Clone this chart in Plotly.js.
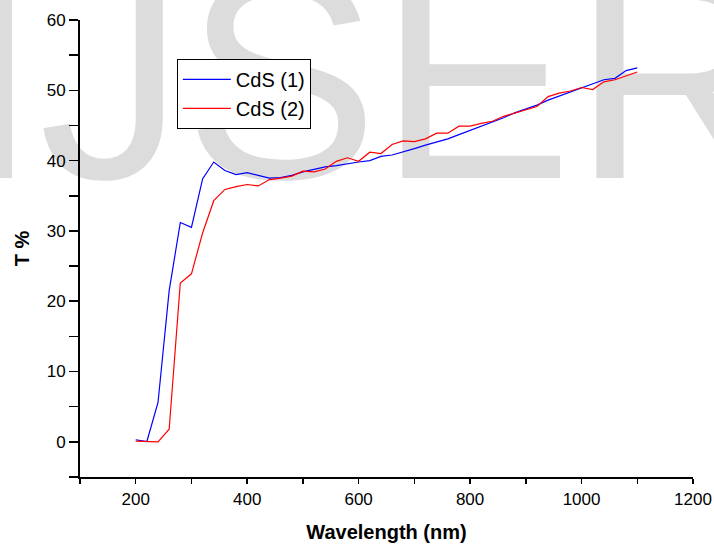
<!DOCTYPE html>
<html><head><meta charset="utf-8">
<script src="https://cdn.plot.ly/plotly-3.0.1.min.js"></script>
<style>
html,body{margin:0;padding:0;background:#fff;}
#wrap{position:relative;width:714px;height:548px;overflow:hidden;}
#wm{position:absolute;left:0;top:0;}
#chart{position:absolute;left:0;top:0;width:714px;height:548px;}
</style></head><body>
<div id="wrap">
<svg id="wm" width="714" height="548"><text x="-42" y="178" font-family="Liberation Sans, Arial, sans-serif" font-size="291" fill="#dcdcdc">IJSER</text></svg>
<div id="chart"></div></div>
<script>
const wavelength = [200,220,240,260,280,300,320,340,360,380,400,420,440,460,480,500,520,540,560,580,600,620,640,660,680,700,720,740,760,780,800,820,840,860,880,900,920,940,960,980,1000,1020,1040,1060,1080,1100];
const cds1 = [0.3,0.05,5.6,21.5,31.2,30.5,37.4,39.8,38.6,38.0,38.3,37.9,37.5,37.6,37.9,38.4,38.8,39.1,39.3,39.6,39.8,40.0,40.6,40.8,41.2,41.7,42.2,42.6,43.1,43.7,44.3,44.9,45.4,46.1,46.8,47.3,47.9,48.6,49.2,49.8,50.3,50.9,51.5,51.7,52.8,53.2];
const cds2 = [0.1,0.0,0.0,1.8,22.6,23.9,29.7,34.3,35.9,36.3,36.6,36.4,37.3,37.5,37.8,38.5,38.4,38.8,39.9,40.4,39.9,41.2,41.0,42.3,42.8,42.7,43.1,43.9,43.9,44.9,44.9,45.3,45.6,46.3,46.8,47.3,47.7,49.1,49.6,49.9,50.4,50.1,51.2,51.5,52.1,52.6];
const seriesNames = ['CdS (1)','CdS (2)'];
const xTitle = 'Wavelength (nm)';
const yTitle = 'T %';

const FONT = 'Liberation Sans, Arial, sans-serif';
const traces = [
  {x: wavelength, y: cds1, name: seriesNames[0], type:'scatter', mode:'lines', line:{color:'#0000ff', width:1.2}},
  {x: wavelength, y: cds2, name: seriesNames[1], type:'scatter', mode:'lines', line:{color:'#ff0000', width:1.2}}
];
const axBase = {showline:true, linewidth:2, linecolor:'#000', showgrid:false, zeroline:false, tickcolor:'#000', tickwidth:1.5};
const layout = {
  width:714, height:548,
  margin:{l:80, r:21, t:20, b:71},
  paper_bgcolor:'rgba(0,0,0,0)', plot_bgcolor:'rgba(0,0,0,0)',
  font:{family:FONT, color:'#000'},
  showlegend:true,
  legend:{x:0.158, y:0.915, xanchor:'left', yanchor:'top', bgcolor:'#ffffff', bordercolor:'#000', borderwidth:1,
          itemwidth:48, font:{size:20, family:FONT}},
  xaxis: Object.assign({}, axBase, {
    range:[100,1200], tick0:200, dtick:200, ticks:'outside', ticklen:5,
    tickfont:{size:17}, ticklabelstandoff:1,
    minor:{tick0:100, dtick:100, ticks:'outside', ticklen:5, tickwidth:1.5, tickcolor:'#000', showgrid:false},
    title:{text:'<b>'+xTitle+'</b>', font:{size:20}, standoff:17}
  }),
  xaxis2: Object.assign({}, axBase, {
    overlaying:'x', side:'top', anchor:'y', range:[100,1200], tick0:100, dtick:100,
    ticks:'inside', ticklen:9, showticklabels:false
  }),
  yaxis: Object.assign({}, axBase, {
    range:[-5,60], tick0:0, dtick:10, ticks:'outside', ticklen:9,
    tickfont:{size:17},
    minor:{tick0:0, dtick:5, ticks:'outside', ticklen:9, tickwidth:1.5, tickcolor:'#000', showgrid:false},
    title:{text:'<b>'+yTitle+'</b>', font:{size:20}, standoff:12}
  }),
  yaxis2: Object.assign({}, axBase, {
    overlaying:'y', side:'right', anchor:'x', range:[-5,60], tick0:0, dtick:5,
    ticks:'inside', ticklen:5, showticklabels:false
  })
};
Plotly.newPlot('chart', traces, layout, {displayModeBar:false, staticPlot:true});
</script>
</body></html>
